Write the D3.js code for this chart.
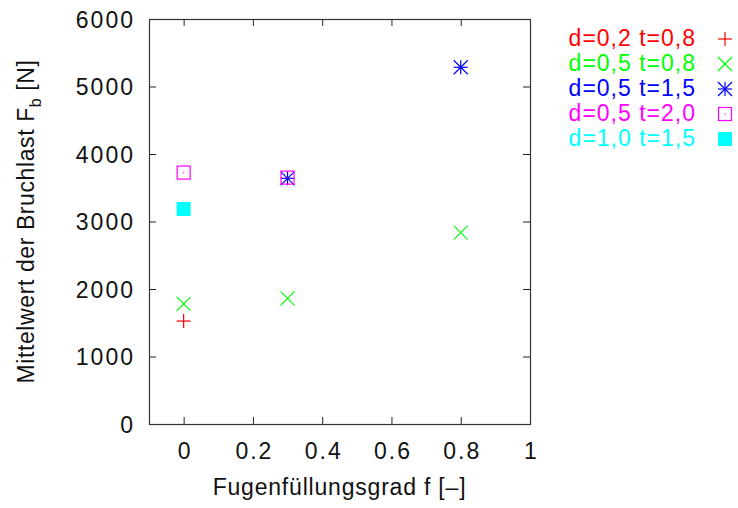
<!DOCTYPE html>
<html>
<head>
<meta charset="utf-8">
<script src="https://cdn.jsdelivr.net/npm/d3@7"></script>
<style>
  body { margin: 0; background: white; }
  text { font-family: "Liberation Sans", Arial, Helvetica, sans-serif; }
</style>
</head>
<body>
<div id="chart"></div>
<script>
// data
const seriesLabels = ["d=0,2 t=0,8", "d=0,5 t=0,8", "d=0,5 t=1,5", "d=0,5 t=2,0", "d=1,0 t=1,5"];
const seriesColors = ["#ff0000", "#00ff00", "#0000ff", "#ff00ff", "#00ffff"];
const seriesSymbols = ["plus", "cross", "star", "box", "boxfilled"];
const fuellungsgrad = [[0], [0, 0.3, 0.8], [0.3, 0.8], [0, 0.3], [0]];
const bruchlast = [[1525], [1780, 1860, 2835], [3640, 5285], [3725, 3650], [3185]];
const xTicks = [0, 0.2, 0.4, 0.6, 0.8, 1];
const yTicks = [0, 1000, 2000, 3000, 4000, 5000, 6000];

const dimensions = {
  width: 738,
  height: 508,
  margins: { top: 19, right: 208, bottom: 84, left: 149 }
};
dimensions.boundedWidth = dimensions.width - dimensions.margins.left - dimensions.margins.right;
dimensions.boundedHeight = dimensions.height - dimensions.margins.top - dimensions.margins.bottom;

const svg = d3.select("#chart")
  .append("svg")
  .attr("width", dimensions.width)
  .attr("height", dimensions.height);

const bounds = svg.append("g")
  .attr("transform", `translate(${dimensions.margins.left},${dimensions.margins.top})`);

const xScale = d3.scaleLinear().domain([-0.1, 1]).range([0, dimensions.boundedWidth]);
const yScale = d3.scaleLinear().domain([0, 6000]).range([dimensions.boundedHeight, 0]);

const tickLen = 7;
const fontSize = 23;

// axes (ticks inward, mirrored)
const xAxis = d3.axisBottom(xScale).tickValues(xTicks).tickSize(-tickLen).tickFormat(d3.format("~g"));
const xAxisTop = d3.axisTop(xScale).tickValues(xTicks).tickSize(-tickLen).tickFormat("");
const yAxis = d3.axisLeft(yScale).tickValues(yTicks).tickSize(-tickLen).tickFormat(d3.format("d"));
const yAxisRight = d3.axisRight(yScale).tickValues(yTicks).tickSize(-tickLen).tickFormat("");

function styleAxis(g) {
  g.select(".domain").remove();
  g.selectAll(".tick line").attr("stroke", "#222").attr("stroke-width", 1);
  g.selectAll(".tick text")
    .attr("fill", "#111")
    .attr("font-size", fontSize)
    .attr("letter-spacing", 2)
    .attr("font-family", "Liberation Sans, Arial, sans-serif");
}

bounds.append("g")
  .attr("transform", `translate(0,${dimensions.boundedHeight})`)
  .call(xAxis)
  .call(styleAxis)
  .call((g) => g.selectAll(".tick text").attr("x", 1).attr("y", 19).attr("dy", "0.71em"));

bounds.append("g").call(xAxisTop).call(styleAxis);

bounds.append("g")
  .call(yAxis)
  .call(styleAxis)
  .call((g) => g.selectAll(".tick text").attr("x", -14).attr("dy", "0.35em"));

bounds.append("g")
  .attr("transform", `translate(${dimensions.boundedWidth},0)`)
  .call(yAxisRight)
  .call(styleAxis);

// frame
bounds.append("rect")
  .attr("x", 0.5)
  .attr("y", 0.5)
  .attr("width", dimensions.boundedWidth)
  .attr("height", dimensions.boundedHeight)
  .attr("fill", "none")
  .attr("stroke", "#333")
  .attr("stroke-width", 1.2);

// axis titles
svg.append("text")
  .attr("x", dimensions.margins.left + dimensions.boundedWidth / 2)
  .attr("y", 495)
  .attr("text-anchor", "middle")
  .attr("font-size", fontSize)
  .attr("letter-spacing", 0.8)
  .attr("fill", "#111")
  .text("Fugenfüllungsgrad f [–]");

const yTitle = svg.append("text")
  .attr("transform", `translate(34,${dimensions.margins.top + dimensions.boundedHeight / 2}) rotate(-90)`)
  .attr("text-anchor", "middle")
  .attr("font-size", fontSize)
  .attr("letter-spacing", 0.6)
  .attr("fill", "#111");
yTitle.append("tspan").text("Mittelwert der Bruchlast F");
yTitle.append("tspan").attr("dy", 7).attr("font-size", 16).text("b");
yTitle.append("tspan").attr("dy", -7).text(" [N]");

// symbols
const half = 7;
function drawSymbol(g, type, color) {
  const lines = [];
  if (type === "plus" || type === "star") {
    lines.push([-half, 0, half, 0], [0, -half, 0, half]);
  }
  if (type === "cross" || type === "star") {
    lines.push([-half, -half, half, half], [-half, half, half, -half]);
  }
  lines.forEach((l) => {
    g.append("line")
      .attr("x1", l[0]).attr("y1", l[1]).attr("x2", l[2]).attr("y2", l[3])
      .attr("stroke", color)
      .attr("stroke-width", 1.2);
  });
  if (type === "box") {
    g.append("rect")
      .attr("x", -half + 0.5).attr("y", -half + 0.5)
      .attr("width", 2 * half - 1).attr("height", 2 * half - 1)
      .attr("fill", "none")
      .attr("stroke", color)
      .attr("stroke-width", 1.2);
    g.append("rect")
      .attr("x", -0.5).attr("y", -0.5).attr("width", 1.2).attr("height", 1.2)
      .attr("fill", color);
  }
  if (type === "boxfilled") {
    g.append("rect")
      .attr("x", -half).attr("y", -half)
      .attr("width", 2 * half).attr("height", 2 * half)
      .attr("fill", color);
  }
}

// points
seriesLabels.forEach((label, i) => {
  fuellungsgrad[i].forEach((f, j) => {
    const g = bounds.append("g")
      .attr("transform", `translate(${xScale(f)},${yScale(bruchlast[i][j])})`);
    drawSymbol(g, seriesSymbols[i], seriesColors[i]);
  });
});

// legend
const legend = svg.append("g");
seriesLabels.forEach((label, i) => {
  const yPos = 39 + i * 25;
  legend.append("text")
    .attr("x", 696)
    .attr("y", yPos + 7)
    .attr("text-anchor", "end")
    .attr("font-size", fontSize)
    .attr("letter-spacing", 1)
    .attr("fill", seriesColors[i])
    .text(label);
  const g = legend.append("g").attr("transform", `translate(725,${yPos})`);
  drawSymbol(g, seriesSymbols[i], seriesColors[i]);
});
</script>
</body>
</html>
